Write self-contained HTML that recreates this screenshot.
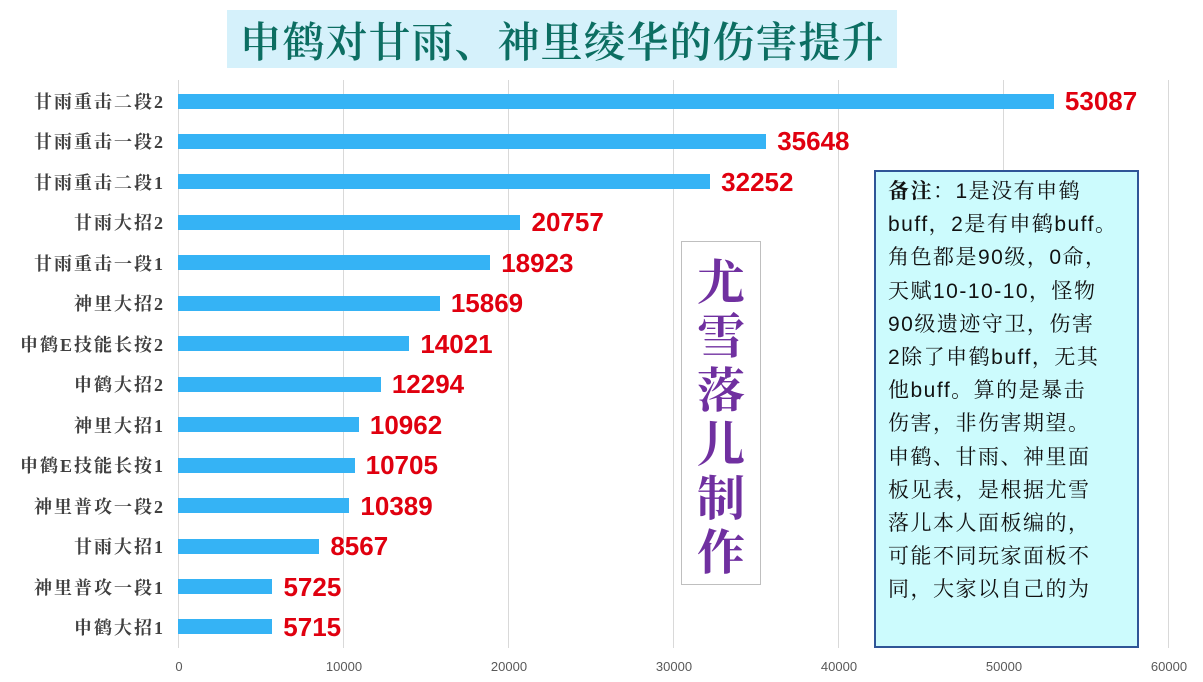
<!DOCTYPE html>
<html><head><meta charset="utf-8"><style>
body{margin:0;width:1203px;height:682px;background:#fff;position:relative;overflow:hidden;font-family:"Liberation Sans","Noto Serif CJK SC","Noto Sans CJK SC",serif}
.a{position:absolute}
.g{position:absolute;top:80px;height:568px;width:1px;background:#d9d9d9}
.bar{position:absolute;left:178px;height:15px;background:#35b3f5}
.lab{position:absolute;right:1038px;font-size:18px;letter-spacing:2px;color:#404040;font-weight:bold;white-space:nowrap;font-family:"Liberation Serif","Noto Serif CJK SC",serif}
.val{position:absolute;font-size:26px;font-weight:bold;color:#e0000f;font-family:"Liberation Sans",sans-serif}
.t{position:absolute;top:659px;font-size:13px;color:#595959;transform:translateX(-50%)}
.nb{position:absolute;left:874px;top:170px;width:261px;height:474px;border:2px solid #2f5597;background:#ccfbfd}
.nt{position:absolute;left:888px;top:175px;font-size:21px;line-height:33.2px;color:#111;white-space:nowrap;font-family:'Liberation Sans','Noto Serif CJK SC',serif;letter-spacing:1.5px}
</style></head><body>
<div class="a" style="left:227px;top:10px;width:670px;height:58px;background:#d5f1fb"></div>
<div class="a" style="left:227px;top:10px;width:670px;text-align:center;font-size:42px;color:#0c6e62;font-family:'Noto Serif CJK SC',serif;font-weight:600;letter-spacing:1px">申鹤对甘雨、神里绫华的伤害提升</div>
<div class="g" style="left:178px"></div><div class="g" style="left:343px"></div><div class="g" style="left:508px"></div><div class="g" style="left:673px"></div><div class="g" style="left:838px"></div><div class="g" style="left:1003px"></div><div class="g" style="left:1168px"></div>
<div class="t" style="left:179px">0</div><div class="t" style="left:344px">10000</div><div class="t" style="left:509px">20000</div><div class="t" style="left:674px">30000</div><div class="t" style="left:839px">40000</div><div class="t" style="left:1004px">50000</div><div class="t" style="left:1169px">60000</div>
<div id="c"></div>
<script>
var d=[["甘雨重击二段2",53087],["甘雨重击一段2",35648],["甘雨重击二段1",32252],["甘雨大招2",20757],["甘雨重击一段1",18923],["神里大招2",15869],["申鹤E技能长按2",14021],["申鹤大招2",12294],["神里大招1",10962],["申鹤E技能长按1",10705],["神里普攻一段2",10389],["甘雨大招1",8567],["神里普攻一段1",5725],["申鹤大招1",5715]];
var h="";d.forEach(function(r,i){var y=101+i*40.46;var w=r[1]*0.0165;
h+='<div class="bar" style="top:'+(y-7.5)+'px;width:'+w+'px"></div>';
h+='<div class="lab" style="top:'+(y-13)+'px">'+r[0]+'</div>';
h+='<div class="val" style="left:'+(178+w+11)+'px;top:'+(y-15)+'px">'+r[1]+'</div>';});
document.getElementById("c").innerHTML=h;
</script>
<div class="a" style="left:681px;top:241px;width:78px;height:342px;border:1px solid #bfbfbf;background:#fff"></div>
<div class="a" style="left:681px;top:252px;width:80px;text-align:center;font-size:48px;line-height:54px;color:#7030a0;font-weight:bold;font-family:'Noto Serif CJK SC',serif">尤<br>雪<br>落<br>儿<br>制<br>作</div>
<div class="nb"></div>
<div class="nt"><b>备注</b>：1是没有申鹤<br>buff，2是有申鹤buff。<br>角色都是90级，0命，<br>天赋10-10-10，怪物<br>90级遗迹守卫，伤害<br>2除了申鹤buff，无其<br>他buff。算的是暴击<br>伤害，非伤害期望。<br>申鹤、甘雨、神里面<br>板见表，是根据尤雪<br>落儿本人面板编的，<br>可能不同玩家面板不<br>同，大家以自己的为</div>
</body></html>
